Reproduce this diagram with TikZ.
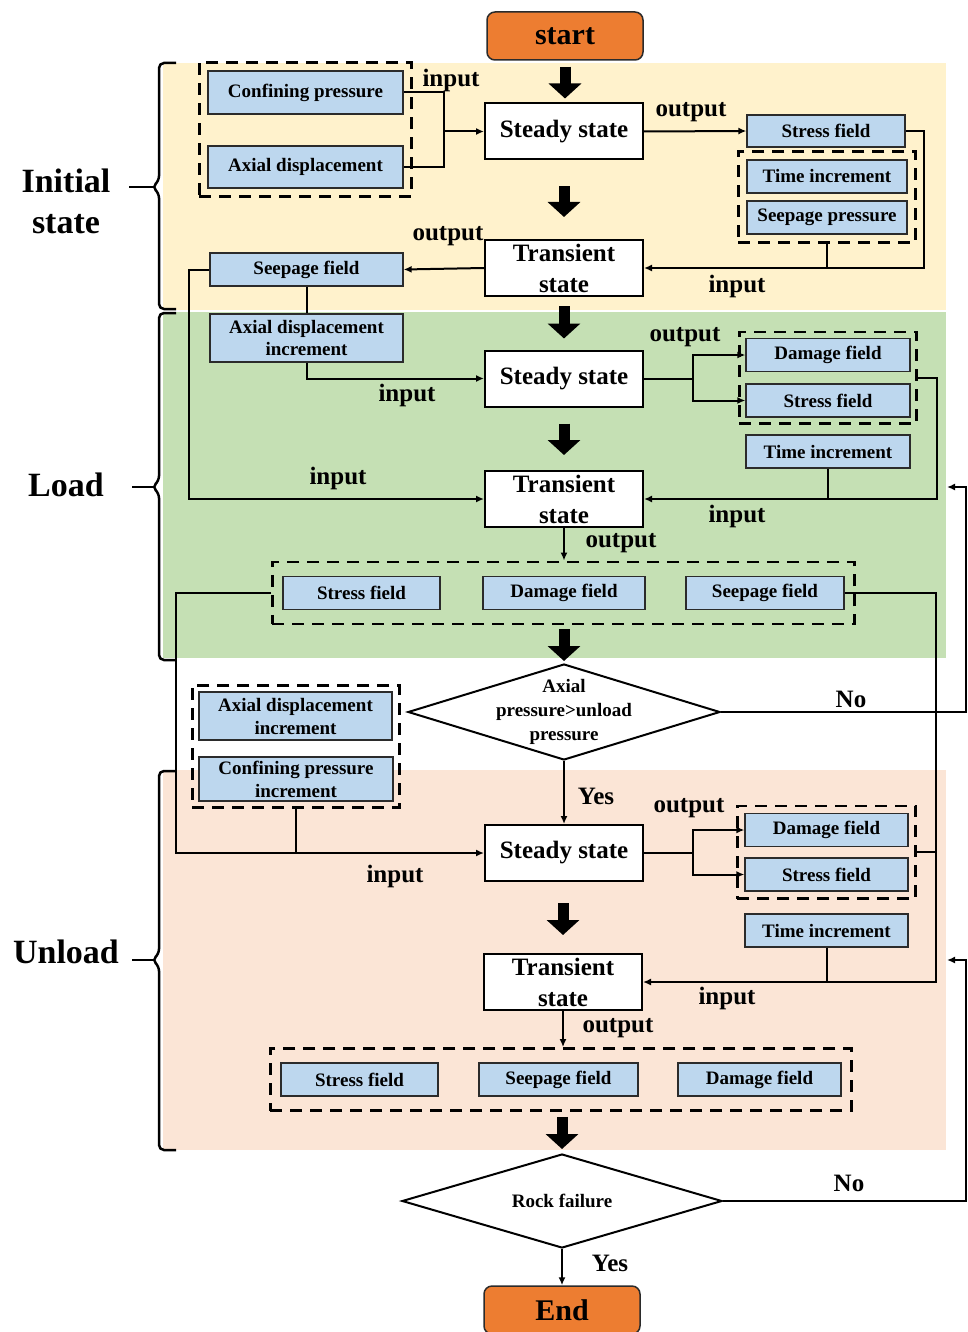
\documentclass[tikz,border=0pt]{standalone}
\usepackage{fontspec}
\setmainfont{Liberation Serif}
\usetikzlibrary{shapes.geometric,arrows.meta,fit}

\definecolor{termorange}{HTML}{ED7D31}
\definecolor{fieldblue}{HTML}{BDD7EE}
\definecolor{initbg}{HTML}{FFF2CC}
\definecolor{loadbg}{HTML}{C5E0B4}
\definecolor{unloadbg}{HTML}{FBE5D6}
\definecolor{boxline}{HTML}{2B2B2B}

\tikzset{
  terminal/.style={draw=boxline, line width=1.5pt, fill=termorange, rounded corners=8pt,
    minimum width=156pt, minimum height=48pt, font=\fontsize{30}{36}\selectfont\bfseries},
  state/.style={draw, line width=2pt, fill=white, minimum width=158pt, minimum height=56pt,
    inner sep=0pt, align=center, font=\fontsize{25}{31}\selectfont\bfseries},
  field/.style={draw=boxline, line width=1.3pt, fill=fieldblue, minimum height=33pt,
    inner sep=0pt, align=center, font=\fontsize{19}{23}\selectfont\bfseries},
  group/.style={draw, line width=2.6pt, dash pattern=on 12pt off 8pt, inner sep=8pt},
  decision/.style={draw, diamond, aspect=3.4, line width=2pt, fill=white, inner sep=0pt,
    font=\fontsize{19}{24}\selectfont\bfseries},
  lbl/.style={inner sep=0pt, font=\fontsize{25}{30}\selectfont\bfseries},
  stage/.style={align=center, font=\fontsize{34}{41}\selectfont\bfseries},
  conn/.style={line width=2pt},
  arr/.style={conn, -{Latex[length=8pt,width=7pt]}},
  bigarrow/.style={line width=11pt, -{Triangle[length=15pt,width=32pt]}},
  stagebrace/.style={line width=2.5pt, rounded corners=5pt}
}

\begin{document}
\begin{tikzpicture}[x=1pt, y=-1pt]
    \useasboundingbox (0,0) rectangle (968,1332);

    % stage backgrounds and braces
    \fill [initbg] (163,63) rectangle (946,310);
    \fill [loadbg] (163,312) rectangle (946,658);
    \fill [unloadbg] (163,770) rectangle (946,1150);

    \draw [stagebrace] (176,63) -- (159,63) -- (159,181) -- (152,187) -- (159,193) -- (159,309) -- (176,309);
    \draw [stagebrace] (129,187) -- (155,187);
    \draw [stagebrace] (176,313) -- (159,313) -- (159,481) -- (152,487) -- (159,493) -- (159,660) -- (176,660);
    \draw [stagebrace] (132,487) -- (155,487);
    \draw [stagebrace] (176,771) -- (159,771) -- (159,954) -- (152,960) -- (159,966) -- (159,1150) -- (176,1150);
    \draw [stagebrace] (132,960) -- (155,960);

    \node (initname) at (66,201) [stage] {Initial\\state};
    \node (loadname) at (66,485) [stage] {Load};
    \node (unloadname) at (66,952) [stage] {Unload};

    \node (start) at (565,36) [terminal] {start};

    % initial state
    \node (conf) at (305.5,92.5) [field, minimum width=195pt, minimum height=43pt] {Confining pressure};
    \node (axdisp) at (305.5,167) [field, minimum width=195pt, minimum height=42pt] {Axial displacement};
    \node (initin) [group, fit=(conf)(axdisp)] {};
    \node (steady1) at (564,131.5) [state] {Steady state};
    \node (stress1) at (826,131) [field, minimum width=158pt, minimum height=32pt] {Stress field};
    \node (time1) at (827,176.5) [field, minimum width=160pt] {Time increment};
    \node (seeppr1) at (827,217.5) [field, minimum width=160pt] {Seepage pressure};
    \node (initout) [group, fit=(time1)(seeppr1)] {};
    \node (trans1) at (564,268) [state] {Transient\\state};
    \node (seep1) at (306.5,269.5) [field, minimum width=193pt] {Seepage field};

    % load
    \node (axinc1) at (306.5,338) [field, minimum width=193pt, minimum height=48pt] {Axial displacement\\increment};
    \node (steady2) at (564,378.5) [state] {Steady state};
    \node (damage2) at (828,355) [field, minimum width=164pt] {Damage field};
    \node (stress2) at (828,400.5) [field, minimum width=164pt] {Stress field};
    \node (loadout1) [group, fit=(damage2)(stress2), inner sep=6pt] {};
    \node (time2) at (828,451.5) [field, minimum width=164pt] {Time increment};
    \node (trans2) at (564,499) [state] {Transient\\state};
    \node (stress3) at (361.5,593) [field, minimum width=157pt] {Stress field};
    \node (damage3) at (564,593) [field, minimum width=162pt] {Damage field};
    \node (seep3) at (765,593) [field, minimum width=158pt] {Seepage field};
    \node (loadout2) [group, fit=(stress3)(seep3), inner xsep=10pt, inner ysep=14pt] {};

    \node (check1) at (564,712) [decision, minimum width=312pt, minimum height=96pt,
        label={[align=center, font=\fontsize{19}{24}\selectfont\bfseries]center:Axial\\pressure>unload\\pressure}] {};

    % unload
    \node (axinc2) at (295.5,716) [field, minimum width=193pt, minimum height=48pt] {Axial displacement\\increment};
    \node (confinc) at (296,779) [field, minimum width=194pt, minimum height=44pt] {Confining pressure\\increment};
    \node (unloadin) [group, fit=(axinc2)(confinc), inner sep=6pt] {};
    \node (steady3) at (564,853) [state] {Steady state};
    \node (damage4) at (826.5,830) [field, minimum width=163pt] {Damage field};
    \node (stress4) at (826.5,874.5) [field, minimum width=163pt] {Stress field};
    \node (unloadout1) [group, fit=(damage4)(stress4), inner sep=7pt] {};
    \node (time4) at (826.5,930.5) [field, minimum width=163pt] {Time increment};
    \node (trans3) at (563,982) [state] {Transient\\state};
    \node (stress5) at (359.5,1079.5) [field, minimum width=157pt] {Stress field};
    \node (seep5) at (558.5,1079.5) [field, minimum width=159pt] {Seepage field};
    \node (damage5) at (759.5,1079.5) [field, minimum width=163pt] {Damage field};
    \node (unloadout2) [group, fit=(stress5)(damage5), inner xsep=10pt, inner ysep=14pt] {};

    \node (check2) at (562,1201) [decision, minimum width=320pt, minimum height=94pt] {Rock failure};
    \node (finish) at (562,1310) [terminal] {End};

    % labels
    \node (in1) at (451,80) [lbl] {input};
    \node (out1) at (691,112) [lbl] {output};
    \node (out2) at (448,236) [lbl] {output};
    \node (in2) at (737,286) [lbl] {input};
    \node (out3) at (685,337) [lbl] {output};
    \node (in3) at (407,395) [lbl] {input};
    \node (in4) at (338,478) [lbl] {input};
    \node (in5) at (737,516) [lbl] {input};
    \node (out4) at (621,543) [lbl] {output};
    \node (no1) at (851,699) [lbl] {No};
    \node (yes1) at (596,796) [lbl] {Yes};
    \node (out5) at (689,808) [lbl] {output};
    \node (in6) at (395,876) [lbl] {input};
    \node (in7) at (727,998) [lbl] {input};
    \node (out6) at (618,1028) [lbl] {output};
    \node (no2) at (849,1183) [lbl] {No};
    \node (yes2) at (610,1263) [lbl] {Yes};

    % main flow
    \draw [bigarrow, shorten <=6pt, shorten >=4pt] (start.south) -- (start.south |- steady1.north);
    \draw [bigarrow, shorten <=26pt, shorten >=22pt] (steady1.south) -- (trans1.north);
    \draw [bigarrow, shorten <=9pt, shorten >=11pt] (trans1.south) -- (steady2.north);
    \draw [bigarrow, shorten <=16pt, shorten >=15pt] (steady2.south) -- (trans2.north);
    \draw [bigarrow, shorten <=4pt, shorten >=2pt] (check1.north |- loadout2.south) -- (check1.north);
    \draw [bigarrow, shorten <=21pt, shorten >=18pt] (trans3.north |- steady3.south) -- (trans3.north);
    \draw [bigarrow, shorten <=5pt, shorten >=4pt] (check2.north |- unloadout2.south) -- (check2.north);

    % initial state connectors
    \coordinate (j1) at (444,131.5);
    \draw [conn] (conf.east) -| (j1) |- (axdisp.east);
    \draw [arr] (j1) -- (steady1.west);
    \draw [arr] (steady1.east) -- (stress1.west);
    \draw [arr] (stress1.east) -- ++(18,0) |- (trans1.east);
    \draw [conn] (initout.south) -- (initout.south |- trans1.east);
    \draw [arr] (trans1.west) -- (seep1.east);
    \draw [conn] (seep1.south) -- (axinc1.north);

    % load connectors
    \draw [arr] (seep1.west) -- ++(-20,0) |- (trans2.west);
    \draw [arr] (axinc1.south) |- (steady2.west);
    \draw [conn] (steady2.east) -- ++(49,0) coordinate (j2);
    \draw [arr] (j2) |- (damage2.west);
    \draw [arr] (j2) |- (stress2.west);
    \draw [arr] (loadout1.east) -- ++(19,0) |- (trans2.east);
    \draw [conn] (time2.south) -- (time2.south |- trans2.east);
    \draw [arr] (trans2.south) -- (trans2.south |- loadout2.north);

    % decisions
    \coordinate (ret1) at (947,487);
    \coordinate (back1) at (966,487);
    \draw [arr] (check1.east) -| (back1) -- (ret1);
    \draw [arr] (check1.south) -- (steady3.north);
    \coordinate (ret2) at (947,960);
    \coordinate (back2) at (966,960);
    \draw [arr] (check2.east) -| (back2) -- (ret2);
    \draw [arr] (check2.south) -- (finish.north);

    % unload connectors
    \draw [arr] (loadout2.west) -- ++(-95,0) |- (steady3.west);
    \draw [conn] (unloadin.south) -- (unloadin.south |- steady3.west);
    \draw [conn] (steady3.east) -- ++(49,0) coordinate (j3);
    \draw [arr] (j3) |- (damage4.west);
    \draw [arr] (j3) |- (stress4.west);
    \draw [arr] (seep3.east) -- ++(91,0) |- (trans3.east);
    \draw [conn] (unloadout1.east) -- ++(20,0);
    \draw [conn] (time4.south) -- (time4.south |- trans3.east);
    \draw [arr] (trans3.south) -- (trans3.south |- unloadout2.north);
\end{tikzpicture}
\end{document}
